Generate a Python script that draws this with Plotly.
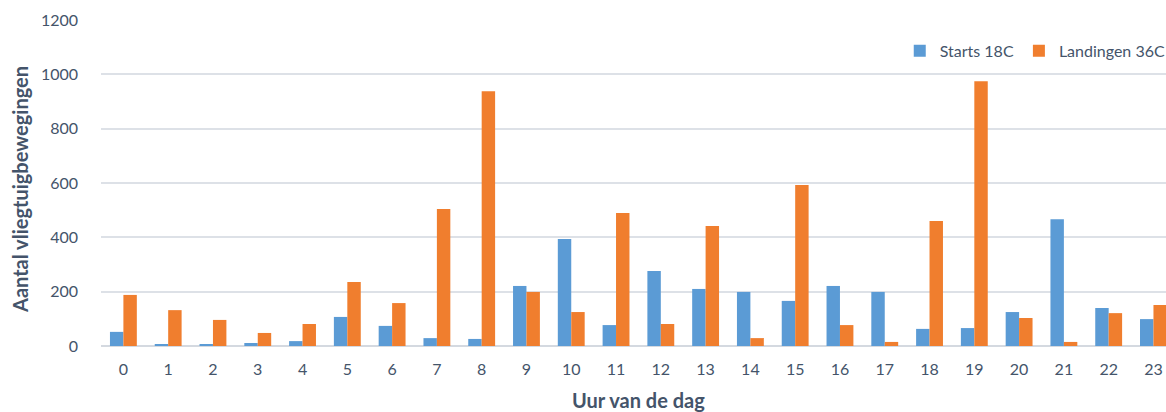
import plotly.graph_objects as go

hours = list(range(24))
starts_18c = [52, 7, 7, 11, 18, 107, 74, 29, 26, 221, 394, 77, 276, 210,
              199, 166, 221, 199, 63, 66, 125, 467, 140, 99]
landingen_36c = [188, 132, 96, 48, 81, 236, 158, 504, 938, 199, 125, 490, 81, 442,
                 29, 593, 77, 15, 460, 975, 103, 15, 121, 151]
y_ticks = [0, 200, 400, 600, 800, 1000, 1200]

text_color = "#44546A"
font_family = "Lato, 'Open Sans', sans-serif"

fig = go.Figure()
fig.add_trace(go.Bar(x=hours, y=starts_18c, name="Starts 18C",
                     marker=dict(color="#5B9BD5", line=dict(width=0))))
fig.add_trace(go.Bar(x=hours, y=landingen_36c, name="Landingen 36C",
                     marker=dict(color="#F07E2E", line=dict(width=0))))

fig.update_layout(
    width=1166, height=412,
    margin=dict(l=101, r=0, t=20, b=66, pad=0, autoexpand=False),
    paper_bgcolor="white", plot_bgcolor="white",
    barmode="group", bargap=0.4, bargroupgap=0,
    font=dict(family=font_family, size=16, color=text_color),
    legend=dict(orientation="h", x=0.75, y=0.905, xanchor="left", yanchor="middle",
                itemwidth=30, font=dict(size=16, color=text_color),
                bgcolor="rgba(0,0,0,0)", traceorder="normal"),
    xaxis=dict(
        range=[-0.5, 23.28], tickmode="array", tickvals=hours,
        ticktext=[str(h) for h in hours], showgrid=False, zeroline=False,
        showline=False, ticks="", ticklabelstandoff=12, automargin=False,
        tickfont=dict(size=16, color=text_color),
    ),
    yaxis=dict(
        range=[0, 1200], tickmode="array", tickvals=y_ticks,
        showgrid=True, gridcolor="#DDE1E7", gridwidth=1.5,
        zeroline=True, zerolinecolor="#D4D9E0", zerolinewidth=2,
        showline=False, ticks="", ticklabelstandoff=22, automargin=False,
        tickfont=dict(size=16, color=text_color),
    ),
    annotations=[
        dict(text="<b>Uur van de dag</b>", xref="x", yref="paper",
             x=11.5, y=0, yshift=-54, showarrow=False,
             xanchor="center", yanchor="middle",
             font=dict(size=20, color=text_color)),
        dict(text="<b>Aantal vliegtuigbewegingen</b>", xref="paper", yref="paper",
             x=0, xshift=-81, y=0.5, yshift=-7, textangle=-90, showarrow=False,
             xanchor="center", yanchor="middle",
             font=dict(size=20, color=text_color)),
    ],
)

fig.write_html("out.html")
